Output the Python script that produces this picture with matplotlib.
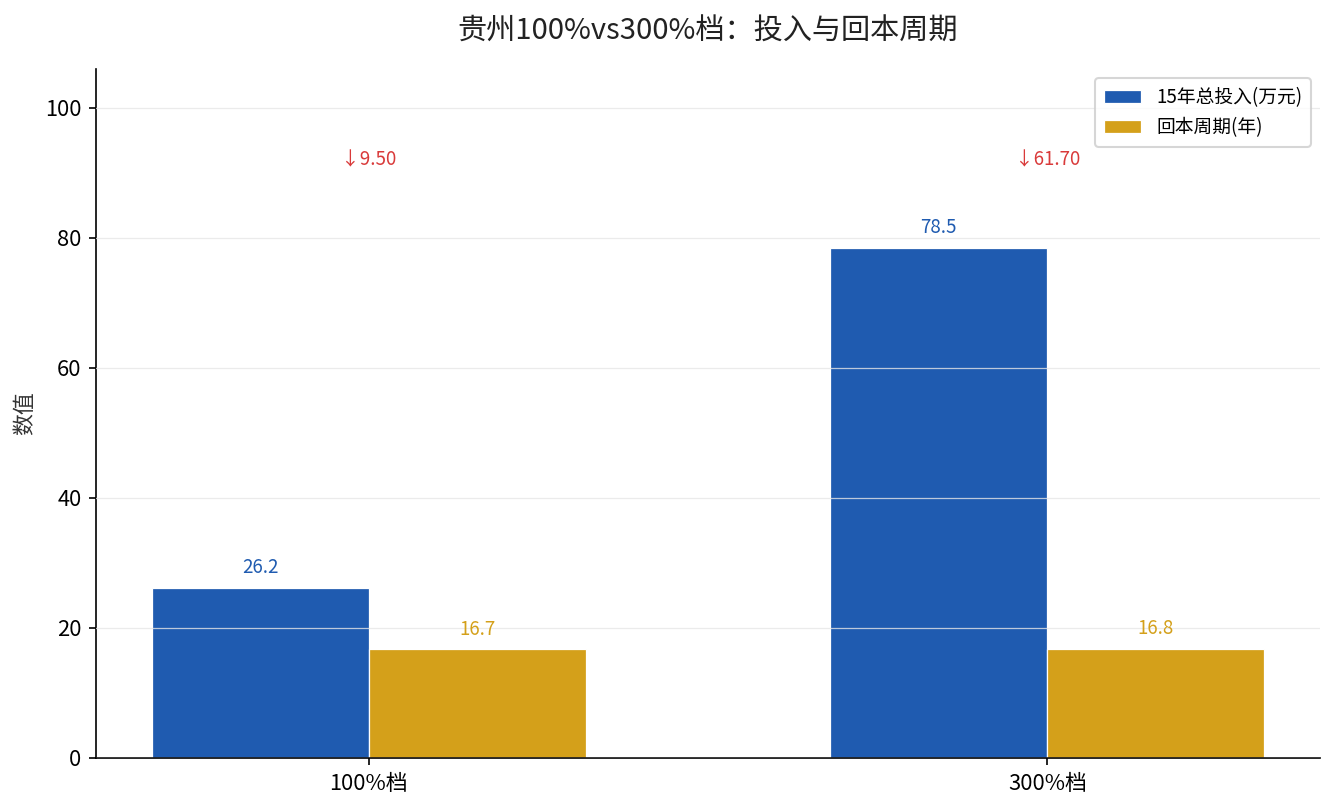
import numpy as np
import matplotlib
matplotlib.use("Agg")
import matplotlib.pyplot as plt

plt.rcParams['font.family'] = ['Noto Sans CJK SC', 'DejaVu Sans']
plt.rcParams['axes.unicode_minus'] = False

# 数据
groups = ["100%档", "300%档"]
invest = [26.2, 78.5]        # 15年总投入(万元)
payback = [16.7, 16.8]       # 回本周期(年)
diff_labels = ["↓9.50", "↓61.70"]
series_names = ["15年总投入(万元)", "回本周期(年)"]
colors = ["#1f5bb0", "#d4a01a"]

fig = plt.figure(figsize=(8.9, 5.4), dpi=150)
ax = fig.add_axes([0.0719, 0.0642, 0.9169, 0.8506])

x = np.arange(len(groups)); w = 0.32
for i, (vals, name, c) in enumerate(zip([invest, payback], series_names, colors)):
    pos = x + (i - 0.5) * w
    ax.bar(pos, vals, w, color=c, edgecolor="white", lw=0.6, label=name)
    for px, v in zip(pos, vals):
        ax.text(px, v + 1.5, f"{v:.1f}", ha="center", va="bottom", color=c, fontsize=9)

ymax = max(invest + payback) * 1.35
for xi, t in zip(x, diff_labels):
    ax.text(xi, ymax * 0.868, t, ha="center", va="center", color="#d93a3a", fontsize=9)

ax.set_ylim(0, ymax)
ax.set_xticks(x); ax.set_xticklabels(groups, fontsize=10.5)
ax.tick_params(axis="y", labelsize=10.5)
ax.set_ylabel("数值", fontsize=10.5, color="#333")
ax.set_title("贵州100%vs300%档：投入与回本周期", fontsize=14, color="#222", pad=14)
ax.spines[["top", "right"]].set_visible(False)
ax.set_axisbelow(False)
ax.grid(axis="y", color="#e6e6e6", alpha=0.8, lw=0.6)
ax.legend(loc="upper right", fontsize=9, edgecolor="#cccccc", borderpad=0.45,
          labelspacing=0.5)

fig.savefig("out.png", dpi=150)
